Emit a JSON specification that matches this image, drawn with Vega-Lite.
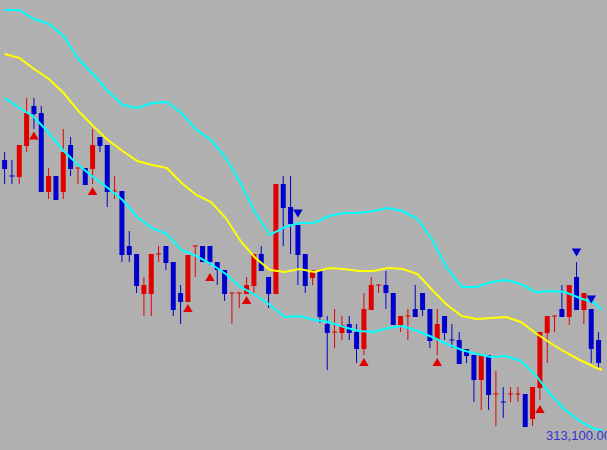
{
  "$schema": "https://vega.github.io/schema/vega-lite/v6.json",
  "width": 607,
  "height": 450,
  "autosize": {"type": "none"},
  "padding": 0,
  "background": "#b0b0b0",
  "config": {"view": {"stroke": null}},
  "datasets": {
    "candles": [
      {"i":0,"o":315860,"h":315940,"l":315620,"c":315770},
      {"i":1,"o":315705,"h":315860,"l":315620,"c":315695},
      {"i":2,"o":315690,"h":316010,"l":315620,"c":316010},
      {"i":3,"o":316000,"h":316480,"l":315940,"c":316330},
      {"i":4,"o":316400,"h":316480,"l":316170,"c":316320},
      {"i":5,"o":316330,"h":316400,"l":315540,"c":315540},
      {"i":6,"o":315540,"h":315780,"l":315470,"c":315700},
      {"i":7,"o":315700,"h":315700,"l":315460,"c":315460},
      {"i":8,"o":315540,"h":316170,"l":315470,"c":315940},
      {"i":9,"o":316010,"h":316090,"l":315700,"c":315770},
      {"i":10,"o":315775,"h":315785,"l":315620,"c":315785},
      {"i":11,"o":315780,"h":315780,"l":315610,"c":315610},
      {"i":12,"o":315770,"h":316170,"l":315620,"c":316010},
      {"i":13,"o":316090,"h":316090,"l":315940,"c":316000},
      {"i":14,"o":316010,"h":316010,"l":315390,"c":315540},
      {"i":15,"o":315545,"h":315700,"l":315470,"c":315555},
      {"i":16,"o":315550,"h":315550,"l":314840,"c":314910},
      {"i":17,"o":315000,"h":315150,"l":314840,"c":314910},
      {"i":18,"o":314920,"h":314920,"l":314530,"c":314600},
      {"i":19,"o":314520,"h":314690,"l":314300,"c":314610},
      {"i":20,"o":314520,"h":314920,"l":314300,"c":314920},
      {"i":21,"o":314915,"h":315000,"l":314840,"c":314925},
      {"i":22,"o":315000,"h":315000,"l":314760,"c":314830},
      {"i":23,"o":314840,"h":314840,"l":314300,"c":314360},
      {"i":24,"o":314530,"h":314610,"l":314220,"c":314440},
      {"i":25,"o":314440,"h":314910,"l":314440,"c":314910},
      {"i":26,"o":314995,"h":315005,"l":314690,"c":315005},
      {"i":27,"o":315000,"h":315000,"l":314840,"c":314840},
      {"i":28,"o":315000,"h":315000,"l":314810,"c":314840},
      {"i":29,"o":314840,"h":314840,"l":314610,"c":314760},
      {"i":30,"o":314760,"h":314760,"l":314450,"c":314520},
      {"i":31,"o":314525,"h":314535,"l":314220,"c":314535},
      {"i":32,"o":314525,"h":314535,"l":314380,"c":314535},
      {"i":33,"o":314520,"h":314690,"l":314520,"c":314610},
      {"i":34,"o":314600,"h":314920,"l":314530,"c":314920},
      {"i":35,"o":314920,"h":315000,"l":314750,"c":314750},
      {"i":36,"o":314690,"h":314690,"l":314380,"c":314520},
      {"i":37,"o":314520,"h":315620,"l":314520,"c":315620},
      {"i":38,"o":315620,"h":315700,"l":315000,"c":315380},
      {"i":39,"o":315390,"h":315700,"l":314920,"c":315220},
      {"i":40,"o":315210,"h":315210,"l":314610,"c":314910},
      {"i":41,"o":314920,"h":314920,"l":314530,"c":314600},
      {"i":42,"o":314680,"h":314760,"l":314610,"c":314760},
      {"i":43,"o":314760,"h":314760,"l":314230,"c":314290},
      {"i":44,"o":314220,"h":314300,"l":313760,"c":314130},
      {"i":45,"o":314135,"h":314370,"l":313980,"c":314145},
      {"i":46,"o":314130,"h":314300,"l":314060,"c":314210},
      {"i":47,"o":314220,"h":314300,"l":314060,"c":314130},
      {"i":48,"o":314140,"h":314220,"l":313830,"c":313970},
      {"i":49,"o":313970,"h":314530,"l":313910,"c":314370},
      {"i":50,"o":314360,"h":314690,"l":314360,"c":314610},
      {"i":51,"o":314605,"h":314615,"l":314530,"c":314615},
      {"i":52,"o":314610,"h":314750,"l":314370,"c":314530},
      {"i":53,"o":314530,"h":314530,"l":314210,"c":314210},
      {"i":54,"o":314210,"h":314300,"l":314140,"c":314300},
      {"i":55,"o":314295,"h":314370,"l":314060,"c":314305},
      {"i":56,"o":314370,"h":314610,"l":314290,"c":314290},
      {"i":57,"o":314530,"h":314530,"l":314300,"c":314360},
      {"i":58,"o":314370,"h":314370,"l":313980,"c":314050},
      {"i":59,"o":314060,"h":314370,"l":313910,"c":314220},
      {"i":60,"o":314300,"h":314300,"l":314060,"c":314130},
      {"i":61,"o":314065,"h":314220,"l":313980,"c":314055},
      {"i":62,"o":314060,"h":314140,"l":313820,"c":313820},
      {"i":63,"o":313970,"h":313970,"l":313830,"c":313900},
      {"i":64,"o":313910,"h":313910,"l":313440,"c":313660},
      {"i":65,"o":313660,"h":313910,"l":313360,"c":313910},
      {"i":66,"o":313910,"h":313910,"l":313360,"c":313510},
      {"i":67,"o":313515,"h":313750,"l":313200,"c":313525},
      {"i":68,"o":313445,"h":313590,"l":313280,"c":313435},
      {"i":69,"o":313515,"h":313590,"l":313440,"c":313525},
      {"i":70,"o":313515,"h":313590,"l":313440,"c":313525},
      {"i":71,"o":313520,"h":313520,"l":313190,"c":313190},
      {"i":72,"o":313270,"h":313590,"l":313200,"c":313590},
      {"i":73,"o":313580,"h":314140,"l":313460,"c":314140},
      {"i":74,"o":314130,"h":314300,"l":313830,"c":314300},
      {"i":75,"o":314295,"h":314305,"l":314140,"c":314305},
      {"i":76,"o":314370,"h":314610,"l":314290,"c":314290},
      {"i":77,"o":314290,"h":314610,"l":314210,"c":314610},
      {"i":78,"o":314690,"h":314840,"l":314360,"c":314360},
      {"i":79,"o":314360,"h":314530,"l":314220,"c":314530},
      {"i":80,"o":314370,"h":314370,"l":313830,"c":313970},
      {"i":81,"o":314060,"h":314140,"l":313780,"c":313830}
    ],
    "bands": [
      {"t":0,"upper":317360,"middle":316920,"lower":316480},
      {"t":2.01,"upper":317360,"middle":316880,"lower":316380},
      {"t":4.02,"upper":317270,"middle":316770,"lower":316290},
      {"t":6.04,"upper":317220,"middle":316670,"lower":316130},
      {"t":8.05,"upper":317100,"middle":316530,"lower":315950},
      {"t":10.06,"upper":316870,"middle":316350,"lower":315810},
      {"t":12.07,"upper":316720,"middle":316200,"lower":315690},
      {"t":14.08,"upper":316550,"middle":316060,"lower":315580},
      {"t":16.09,"upper":316410,"middle":315950,"lower":315460},
      {"t":18.1,"upper":316380,"middle":315850,"lower":315290},
      {"t":20.11,"upper":316430,"middle":315810,"lower":315180},
      {"t":22.12,"upper":316440,"middle":315780,"lower":315120},
      {"t":24.13,"upper":316330,"middle":315630,"lower":314960},
      {"t":26.15,"upper":316160,"middle":315510,"lower":314900},
      {"t":28.16,"upper":316060,"middle":315440,"lower":314820},
      {"t":30.17,"upper":315880,"middle":315280,"lower":314720},
      {"t":32.18,"upper":315630,"middle":315050,"lower":314590},
      {"t":34.19,"upper":315330,"middle":314880,"lower":314510},
      {"t":36.2,"upper":315110,"middle":314760,"lower":314410},
      {"t":38.21,"upper":315190,"middle":314740,"lower":314290},
      {"t":40.22,"upper":315230,"middle":314770,"lower":314300},
      {"t":42.24,"upper":315230,"middle":314740,"lower":314260},
      {"t":44.25,"upper":315300,"middle":314780,"lower":314240},
      {"t":46.26,"upper":315330,"middle":314770,"lower":314190},
      {"t":48.27,"upper":315330,"middle":314750,"lower":314150},
      {"t":50.28,"upper":315350,"middle":314750,"lower":314140},
      {"t":52.29,"upper":315380,"middle":314780,"lower":314180},
      {"t":54.3,"upper":315350,"middle":314770,"lower":314200},
      {"t":56.31,"upper":315270,"middle":314720,"lower":314150},
      {"t":58.32,"upper":315060,"middle":314560,"lower":314090},
      {"t":60.34,"upper":314780,"middle":314410,"lower":314020},
      {"t":62.35,"upper":314590,"middle":314300,"lower":313960},
      {"t":64.36,"upper":314590,"middle":314270,"lower":313920},
      {"t":66.37,"upper":314640,"middle":314280,"lower":313890},
      {"t":68.38,"upper":314660,"middle":314290,"lower":313900},
      {"t":70.39,"upper":314620,"middle":314240,"lower":313850},
      {"t":72.4,"upper":314540,"middle":314130,"lower":313710},
      {"t":74.42,"upper":314550,"middle":314030,"lower":313520},
      {"t":76.43,"upper":314540,"middle":313940,"lower":313360},
      {"t":78.44,"upper":314480,"middle":313860,"lower":313250},
      {"t":80.45,"upper":314430,"middle":313790,"lower":313170},
      {"t":81.47,"upper":314360,"middle":313760,"lower":313160}
    ],
    "signals": [
      {"i":4,"p":316105,"dir":"up"},
      {"i":12,"p":315550,"dir":"up"},
      {"i":25,"p":314380,"dir":"up"},
      {"i":28,"p":314690,"dir":"up"},
      {"i":33,"p":314460,"dir":"up"},
      {"i":49,"p":313840,"dir":"up"},
      {"i":59,"p":313840,"dir":"up"},
      {"i":73,"p":313370,"dir":"up"},
      {"i":40,"p":315325,"dir":"down"},
      {"i":78,"p":314935,"dir":"down"},
      {"i":80,"p":314465,"dir":"down"}
    ],
    "labels": [
      {"t":73.55,"p":313100,"label":"313,100.00"}
    ]
  },
  "layer": [
    {
      "data": {"name": "candles"},
      "mark": {"type": "rule", "strokeWidth": 1},
      "encoding": {
        "x": {"field": "i", "type": "quantitative", "scale": {"domain": [0.055, 81.47], "nice": false, "zero": false}, "axis": null},
        "y": {"field": "l", "type": "quantitative", "scale": {"domain": [312960, 317460], "nice": false, "zero": false}, "axis": null},
        "y2": {"field": "h"},
        "color": {"condition": {"test": "datum.c >= datum.o", "value": "#e00000"}, "value": "#0000cc"}
      }
    },
    {
      "data": {"name": "candles"},
      "mark": {"type": "bar", "size": 5},
      "encoding": {
        "x": {"field": "i", "type": "quantitative"},
        "y": {"field": "o", "type": "quantitative"},
        "y2": {"field": "c"},
        "color": {"condition": {"test": "datum.c >= datum.o", "value": "#e00000"}, "value": "#0000cc"}
      }
    },
    {
      "data": {"name": "bands"},
      "mark": {"type": "line", "strokeWidth": 2, "color": "#00ffff"},
      "encoding": {
        "x": {"field": "t", "type": "quantitative"},
        "y": {"field": "upper", "type": "quantitative"}
      }
    },
    {
      "data": {"name": "bands"},
      "mark": {"type": "line", "strokeWidth": 2, "color": "#ffff00"},
      "encoding": {
        "x": {"field": "t", "type": "quantitative"},
        "y": {"field": "middle", "type": "quantitative"}
      }
    },
    {
      "data": {"name": "bands"},
      "mark": {"type": "line", "strokeWidth": 2, "color": "#00ffff"},
      "encoding": {
        "x": {"field": "t", "type": "quantitative"},
        "y": {"field": "lower", "type": "quantitative"}
      }
    },
    {
      "data": {"name": "signals"},
      "mark": {"type": "point", "filled": true, "opacity": 1, "size": 90, "strokeWidth": 0},
      "encoding": {
        "x": {"field": "i", "type": "quantitative"},
        "y": {"field": "p", "type": "quantitative"},
        "shape": {"field": "dir", "type": "nominal", "scale": {"domain": ["up", "down"], "range": ["triangle-up", "triangle-down"]}, "legend": null},
        "color": {"field": "dir", "type": "nominal", "scale": {"domain": ["up", "down"], "range": ["#e00000", "#0000cc"]}, "legend": null}
      }
    },
    {
      "data": {"name": "labels"},
      "mark": {"type": "text", "align": "left", "baseline": "middle", "font": "Liberation Sans", "fontSize": 13, "color": "#3333cc", "dx": 2},
      "encoding": {
        "x": {"field": "t", "type": "quantitative"},
        "y": {"field": "p", "type": "quantitative"},
        "text": {"field": "label"}
      }
    }
  ]
}
